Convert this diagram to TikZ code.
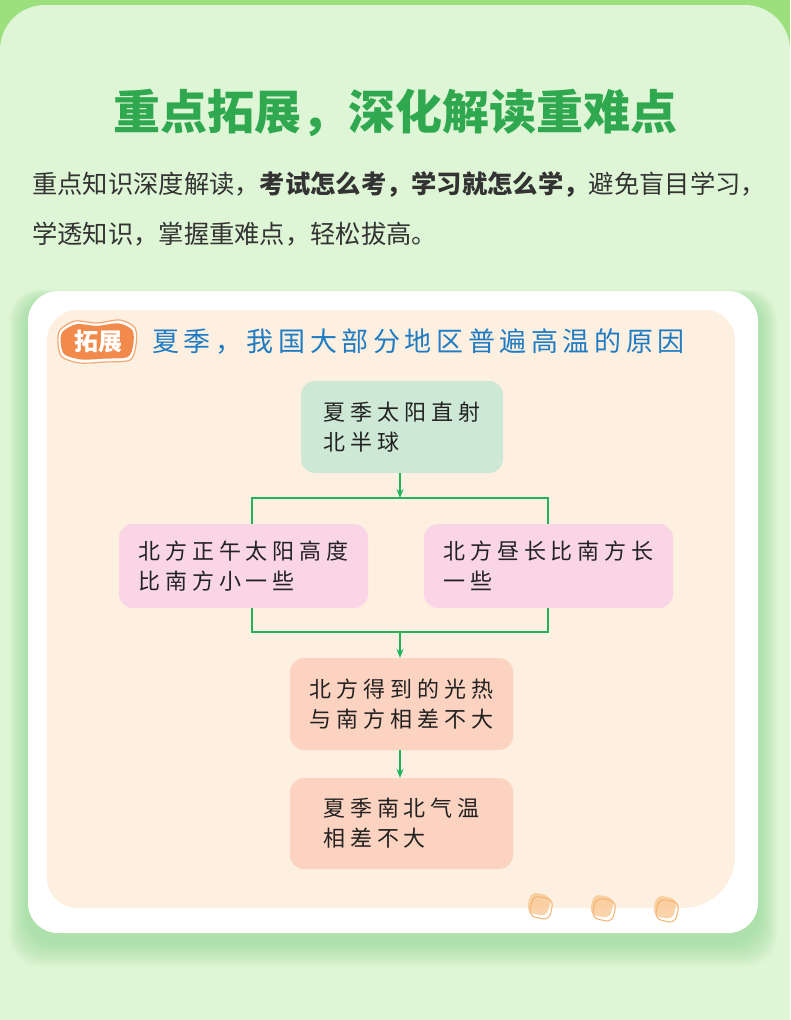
\documentclass[tikz,border=0pt]{standalone}
\usepackage{fontspec}
\newfontfamily\cjk{Noto Sans CJK SC}
\newfontfamily\cjkbox[LetterSpace=22]{Noto Sans CJK SC}
\newfontfamily\cjkhead[LetterSpace=17]{Noto Sans CJK SC}
\usetikzlibrary{arrows.meta}
\definecolor{topgreen}{HTML}{9BE07C}
\definecolor{bglight}{HTML}{DFF6D6}
\definecolor{shadowgreen}{HTML}{86D38A}
\definecolor{titlegreen}{HTML}{2FA84F}
\definecolor{bodytext}{HTML}{333333}
\definecolor{cream}{HTML}{FDF0E0}
\definecolor{headblue}{HTML}{1F7CC4}
\definecolor{badgefill}{HTML}{F28A4C}
\definecolor{badgeline}{HTML}{F5A772}
\definecolor{boxgreen}{HTML}{CDE8D5}
\definecolor{boxpink}{HTML}{F9D5E5}
\definecolor{boxsalmon}{HTML}{FCD3C1}
\definecolor{linegreen}{HTML}{22B35C}
\definecolor{boxtext}{HTML}{222222}
\definecolor{dotfill}{HTML}{F9C58E}
\definecolor{dotline}{HTML}{F5B26E}
\tikzset{
  box/.style={rounded corners=14pt, inner sep=0pt, align=left, text=boxtext,
    font=\cjkbox\fontsize{22}{30}\selectfont},
  conn/.style={draw=linegreen, line width=1.5pt},
  arr/.style={conn, -{Stealth[length=9pt,width=7pt]}},
}
\begin{document}
\begin{tikzpicture}[x=1pt,y=-1pt]
\useasboundingbox (0,0) rectangle (790,1020);
\clip (0,0) rectangle (790,1020);
% background
\fill[topgreen] (0,0) rectangle (790,1020);
\fill[bglight, rounded corners=45pt] (0,5) rectangle (790,1100);
% title and intro
\node[font=\cjk\bfseries\fontsize{47}{50}\selectfont, text=titlegreen] (title) at (395,113) {重点拓展，深化解读重难点};
\node[anchor=west, inner sep=0pt, font=\cjk\fontsize{25.3}{28}\selectfont, text=bodytext] (intro1) at (32,185)
  {重点知识深度解读，{\bfseries 考试怎么考，学习就怎么学，}避免盲目学习，};
\node[anchor=west, inner sep=0pt, font=\cjk\fontsize{25.3}{28}\selectfont, text=bodytext] (intro2) at (32,234)
  {学透知识，掌握重难点，轻松拔高。};
% card shadow
\foreach \i in {1,...,16} {
  \fill[shadowgreen, opacity=0.045, rounded corners=30pt]
    (28-\i*1.2, 291+8-\i*0.6) rectangle (758+\i*1.2, 933+8+\i*1.6);
}
% card
\fill[white, rounded corners=30pt] (28,291) rectangle (758,933);
% cream panel
\fill[cream] [rounded corners=30pt] (47,908) -- (47,310) -- (735,310) [rounded corners=52pt] -- (735,908) [rounded corners=30pt] -- cycle;
% decorative dots
\foreach \x/\y in {540/906,603/908,666/909} {
  \fill[dotfill, opacity=0.75, rounded corners=7pt, rotate around={-12:(\x,\y)}] (\x-12,\y-12) rectangle (\x+9,\y+9);
  \draw[dotline, line width=1pt, rounded corners=7pt, rotate around={-12:(\x,\y)}] (\x-9,\y-9) rectangle (\x+12,\y+12);
}
% badge
\begin{scope}[shift={(97,341)}]
  \draw[badgeline, fill=white, line width=1.2pt] plot[smooth cycle] coordinates
    {(-37,-11) (-22,-20) (0,-18) (23,-21) (38,-13) (39,4) (33,19) (8,21) (-17,22) (-35,16) (-39,2)};
  \begin{scope}[xscale=0.93, yscale=0.84]
    \fill[badgefill] plot[smooth cycle] coordinates
      {(-37,-11) (-22,-20) (0,-18) (23,-21) (38,-13) (39,4) (33,19) (8,21) (-17,22) (-35,16) (-39,2)};
  \end{scope}
\end{scope}
\node[text=white, font=\cjk\bfseries\fontsize{24}{26}\selectfont] (badge) at (98,341) {拓展};
\node[anchor=west, inner sep=0pt, text=headblue, font=\cjkhead\fontsize{27}{30}\selectfont] (head) at (152,342)
  {夏季，我国大部分地区普遍高温的原因};
% flow boxes
\node[box, fill=boxgreen, minimum width=202pt, minimum height=92pt] (b1) at (402,427) {夏季太阳直射\\北半球};
\node[box, fill=boxpink, minimum width=249pt, minimum height=84pt] (b2) at (243.5,566) {北方正午太阳高度\\比南方小一些};
\node[box, fill=boxpink, minimum width=249pt, minimum height=84pt] (b3) at (548.5,566) {北方昼长比南方长\\一些\hphantom{比南方长一些}};
\node[box, fill=boxsalmon, minimum width=223pt, minimum height=92pt] (b4) at (401.5,704) {北方得到的光热\\与南方相差不大};
\node[box, fill=boxsalmon, minimum width=223pt, minimum height=91pt] (b5) at (401.5,823.5) {夏季南北气温\\相差不大\hphantom{气温}};
% junctions
\coordinate (j1) at (400,498);
\coordinate (l1) at (252,498);
\coordinate (r1) at (548,498);
\coordinate (j2) at (400,632);
\coordinate (l2) at (252,632);
\coordinate (r2) at (548,632);
% connectors
\draw[arr] (b1.south -| j1) -- (j1);
\draw[conn] (b2.north -| l1) -- (l1) -- (r1) -- (b3.north -| r1);
\draw[conn] (b2.south -| l2) -- (l2) -- (r2) -- (b3.south -| r2);
\draw[arr] (j2) -- (b4.north -| j2);
\draw[arr] (b4.south -| j2) -- (b5.north -| j2);
\end{tikzpicture}
\end{document}
